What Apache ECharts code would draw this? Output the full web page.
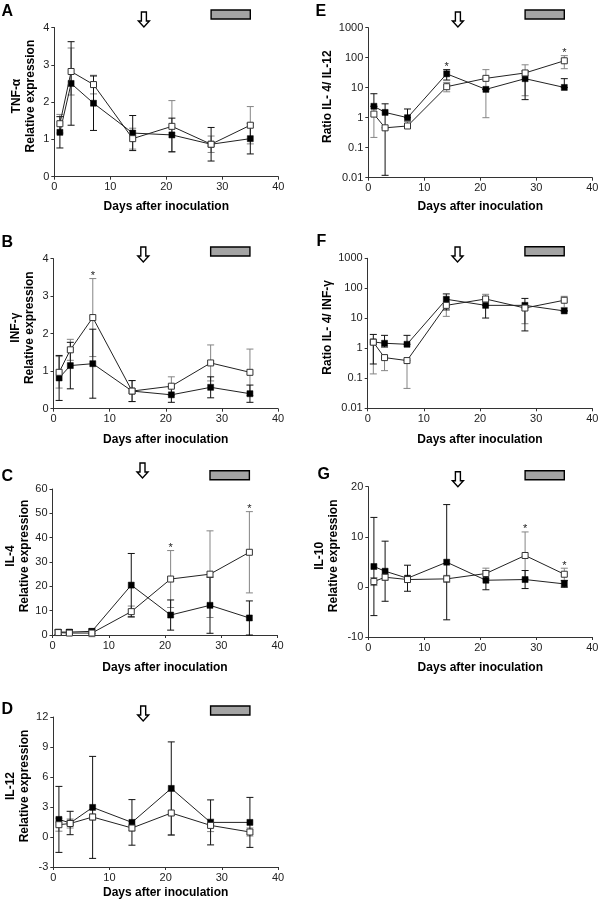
<!DOCTYPE html>
<html><head><meta charset="utf-8">
<script src="https://cdn.jsdelivr.net/npm/echarts@6/dist/echarts.min.js"></script>
<style>html,body{margin:0;padding:0;background:#fff}#c{width:600px;height:905px}</style>
</head><body><div id="c"></div>
<script>
const FONT = '"Liberation Sans", Arial, Helvetica, sans-serif';
const days = [1, 3, 7, 14, 21, 28, 35];
const arrowDay = 16;
const barDays = [28, 35];
const xName = 'Days after inoculation';

// A: TNF-α
const tnfFilled = [1.19, 2.5, 1.97, 1.17, 1.12, 0.87, 1.02];
const tnfFilledErr = [0.42, 1.12, 0.73, 0.47, 0.45, 0.45, 0.41];
const tnfOpen = [1.42, 2.82, 2.47, 1.02, 1.35, 0.87, 1.38];
const tnfOpenErr = [0.25, 0.63, 0.25, 0.28, 0.69, 0.22, 0.5];
const tnfStars = [];

// B: INF-γ
const infFilled = [0.82, 1.15, 1.2, 0.47, 0.37, 0.57, 0.4];
const infFilledErr = [0.6, 0.62, 0.92, 0.28, 0.2, 0.28, 0.23];
const infOpen = [0.97, 1.57, 2.43, 0.47, 0.6, 1.22, 0.97];
const infOpenErr = [0.42, 0.28, 1.04, 0.28, 0.25, 0.48, 0.62];
const infStars = [7];

// C: IL-4
const il4Filled = [1.2, 1.2, 1.5, 20.5, 8.2, 12.2, 7];
const il4FilledErr = [1, 1, 1, 13, 6.2, 11.5, 7];
const il4Open = [1.0, 0.8, 0.8, 9.6, 23, 25, 34];
const il4OpenErr = [0.8, 1, 1.5, 2.3, 11.7, 17.8, 16.7];
const il4Stars = [21, 35];

// D: IL-12
const il12Filled = [1.76, 1.4, 2.96, 1.46, 4.86, 1.46, 1.46];
const il12FilledErr = [3.3, 1.17, 5.1, 2.28, 4.65, 2.25, 2.5];
const il12Open = [1.23, 1.35, 2.0, 0.9, 2.4, 1.16, 0.5];
const il12OpenErr = [0.65, 0.45, 0.3, 0.3, 2.23, 0.62, 0.4];
const il12Stars = [];

// E: Ratio IL-4 / IL-12 (log scale, bounds read directly)
const r12Filled = [2.4, 1.5, 1.0, 29, 8.8, 20, 10.2];
const r12FilledLo = [2.4, 0.012, 1.0, 18, 8.8, 4, 10.2];
const r12FilledHi = [6.3, 2.9, 1.95, 40, 8.8, 36, 20];
const r12Open = [1.32, 0.46, 0.53, 10.8, 20.5, 31, 79];
const r12OpenLo = [0.22, 0.46, 0.53, 7.3, 1.0, 5.4, 43];
const r12OpenHi = [2.4, 0.46, 0.75, 15, 40, 58, 117];
const r12Stars = [14, 35];

// F: Ratio IL-4 / INF-γ (log scale)
const rgFilled = [1.63, 1.47, 1.36, 43, 27, 27, 17.6];
const rgFilledLo = [0.3, 1.1, 1.36, 19, 10.2, 3.8, 17.6];
const rgFilledHi = [2.9, 2.7, 2.7, 65, 27, 46, 17.6];
const rgOpen = [1.6, 0.49, 0.39, 27, 44, 22, 40];
const rgOpenLo = [0.14, 0.18, 0.046, 11.6, 44, 6.6, 23];
const rgOpenHi = [1.6, 0.49, 0.39, 27, 63, 22, 54];
const rgStars = [];

// G: IL-10
const il10Filled = [4.07, 3.13, 1.73, 4.93, 1.33, 1.47, 0.6];
const il10FilledErr = [9.8, 6, 2.6, 11.5, 1.9, 1.8, 0.67];
const il10Open = [1.07, 1.93, 1.47, 1.6, 2.67, 6.27, 2.53];
const il10OpenErr = [0.8, 0.6, 0.5, 0.7, 1.07, 4.7, 1.2];
const il10Stars = [28, 35];

const lo = (v, e) => v.map((x, i) => x - e[i]);
const hi = (v, e) => v.map((x, i) => x + e[i]);

const panels = [
  {letter: 'A', name: 'TNF-α\nRelative expression', type: 'value', min: 0, max: 4, interval: 1,
   f: tnfFilled, fLo: lo(tnfFilled, tnfFilledErr), fHi: hi(tnfFilled, tnfFilledErr),
   o: tnfOpen, oLo: lo(tnfOpen, tnfOpenErr), oHi: hi(tnfOpen, tnfOpenErr), stars: tnfStars,
   grid: {left: 54.3, top: 27.5, width: 224, height: 149.2}, nameGap: 17, xGap: 23.5,
   barOff: -17.5, arrowOff: -15.5, lab: [1.5, 3.5]},
  {letter: 'B', name: 'INF-γ\nRelative expression', type: 'value', min: 0, max: 4, interval: 1,
   f: infFilled, fLo: lo(infFilled, infFilledErr), fHi: hi(infFilled, infFilledErr),
   o: infOpen, oLo: lo(infOpen, infOpenErr), oHi: hi(infOpen, infOpenErr), stars: infStars,
   grid: {left: 53.5, top: 258.7, width: 224.5, height: 150}, nameGap: 17, xGap: 24.5,
   barOff: -11.7, arrowOff: -11.7, lab: [1.5, 234.5]},
  {letter: 'C', name: 'IL-4\nRelative expression', type: 'value', min: 0, max: 60, interval: 10,
   f: il4Filled, fLo: lo(il4Filled, il4FilledErr), fHi: hi(il4Filled, il4FilledErr),
   o: il4Open, oLo: lo(il4Open, il4OpenErr), oHi: hi(il4Open, il4OpenErr), stars: il4Stars,
   grid: {left: 52.5, top: 489, width: 225, height: 146}, nameGap: 19, xGap: 26.5,
   barOff: -18.3, arrowOff: -26, lab: [1.5, 468.5]},
  {letter: 'D', name: 'IL-12\nRelative expression', type: 'value', min: -3, max: 12, interval: 3,
   f: il12Filled, fLo: lo(il12Filled, il12FilledErr), fHi: hi(il12Filled, il12FilledErr),
   o: il12Open, oLo: lo(il12Open, il12OpenErr), oHi: hi(il12Open, il12OpenErr), stars: il12Stars,
   grid: {left: 53.3, top: 717, width: 224.7, height: 150}, nameGap: 22, xGap: 19.5,
   barOff: -11, arrowOff: -11, lab: [1.5, 701.5]},
  {letter: 'E', name: 'Ratio IL- 4/ IL-12', type: 'log', min: 0.01, max: 1000,
   f: r12Filled, fLo: r12FilledLo, fHi: r12FilledHi,
   o: r12Open, oLo: r12OpenLo, oHi: r12OpenHi, stars: r12Stars,
   grid: {left: 368.3, top: 27.7, width: 224, height: 150}, nameGap: 30, xGap: 22.5,
   barOff: -17.7, arrowOff: -15.7, lab: [315.5, 3.5]},
  {letter: 'F', name: 'Ratio IL- 4/ INF-γ', type: 'log', min: 0.01, max: 1000,
   f: rgFilled, fLo: rgFilledLo, fHi: rgFilledHi,
   o: rgOpen, oLo: rgOpenLo, oHi: rgOpenHi, stars: rgStars,
   grid: {left: 367.7, top: 258.3, width: 224.6, height: 150}, nameGap: 30, xGap: 25.5,
   barOff: -11.6, arrowOff: -11.3, lab: [316.5, 233.5]},
  {letter: 'G', name: 'IL-10\nRelative expression', type: 'value', min: -10, max: 20, interval: 10,
   f: il10Filled, fLo: lo(il10Filled, il10FilledErr), fHi: hi(il10Filled, il10FilledErr),
   o: il10Open, oLo: lo(il10Open, il10OpenErr), oHi: hi(il10Open, il10OpenErr), stars: il10Stars,
   grid: {left: 368.3, top: 486.7, width: 224, height: 150.3}, nameGap: 28, xGap: 24.5,
   barOff: -16, arrowOff: -15, lab: [317.5, 466.5]}
];

const AXIS_COLOR = '#333';
const grids = [], xAxes = [], yAxes = [], series = [], graphics = [];

function errSeries(pi, los, his, color) {
  return {
    type: 'custom', xAxisIndex: pi, yAxisIndex: pi, z: 2, silent: true, clip: false,
    data: days.map((d, k) => [d, los[k], his[k]]),
    encode: {x: 0, y: [1, 2]},
    renderItem: (params, api) => {
      const d = api.value(0), l = api.value(1), h = api.value(2);
      const pt = api.coord([d, h]), pb = api.coord([d, l]);
      const w = 3.5;
      const st = {stroke: color, lineWidth: 1};
      return {type: 'group', children: [
        {type: 'line', shape: {x1: pt[0], y1: pt[1], x2: pb[0], y2: pb[1]}, style: st},
        {type: 'line', shape: {x1: pt[0] - w, y1: pt[1], x2: pt[0] + w, y2: pt[1]}, style: st},
        {type: 'line', shape: {x1: pb[0] - w, y1: pb[1], x2: pb[0] + w, y2: pb[1]}, style: st}
      ]};
    }
  };
}

panels.forEach((p, i) => {
  grids.push(Object.assign({containLabel: false, outerBoundsMode: 'none'}, p.grid));
  xAxes.push({
    gridIndex: i, type: 'value', min: 0, max: 40, interval: 10,
    name: xName, nameLocation: 'middle', nameGap: p.xGap,
    nameTextStyle: {fontFamily: FONT, fontWeight: 'bold', fontSize: 12, color: '#000'},
    axisLine: {show: true, onZero: false, lineStyle: {color: AXIS_COLOR, width: 1}},
    axisTick: {show: true, length: 3, lineStyle: {color: AXIS_COLOR}},
    axisLabel: {fontFamily: FONT, fontSize: 11, color: '#222', margin: 5},
    splitLine: {show: false}
  });
  const y = {
    gridIndex: i, type: p.type, min: p.min, max: p.max,
    name: p.name, nameLocation: 'middle', nameGap: p.nameGap, nameRotate: 90,
    nameTextStyle: {fontFamily: FONT, fontWeight: 'bold', fontSize: 12, color: '#000', lineHeight: 14,
      padding: [0, 0, 0, 12]},
    axisLine: {show: true, onZero: false, lineStyle: {color: AXIS_COLOR, width: 1}},
    axisTick: {show: true, length: 3, lineStyle: {color: AXIS_COLOR}},
    axisLabel: {fontFamily: FONT, fontSize: 11, color: '#222', margin: 5,
      formatter: v => String(+(+v).toPrecision(6))},
    splitLine: {show: false}
  };
  if (p.type === 'log') { y.logBase = 10; } else { y.interval = p.interval; }
  yAxes.push(y);

  series.push(errSeries(i, p.oLo, p.oHi, '#858585'));
  series.push(errSeries(i, p.fLo, p.fHi, '#111'));
  series.push({
    type: 'line', xAxisIndex: i, yAxisIndex: i, z: 3, silent: true,
    data: days.map((d, k) => [d, p.f[k]]),
    symbol: 'rect', symbolSize: 6, showSymbol: true,
    lineStyle: {color: '#222', width: 1}, itemStyle: {color: '#000', borderColor: '#000', borderWidth: 0.5}
  });
  series.push({
    type: 'line', xAxisIndex: i, yAxisIndex: i, z: 4, silent: true,
    data: days.map((d, k) => [d, p.o[k]]),
    symbol: 'rect', symbolSize: 6, showSymbol: true,
    lineStyle: {color: '#222', width: 1}, itemStyle: {color: '#fff', borderColor: '#333', borderWidth: 1}
  });
  // significance stars above the highest error cap
  series.push({
    type: 'custom', xAxisIndex: i, yAxisIndex: i, z: 5, silent: true, clip: false,
    data: p.stars.map(d => { const k = days.indexOf(d); return [d, Math.max(p.fHi[k], p.oHi[k])]; }),
    encode: {x: 0, y: 1},
    renderItem: (params, api) => {
      const pt = api.coord([api.value(0), api.value(1)]);
      return {type: 'text', x: pt[0], y: pt[1] + 3,
        style: {text: '*', fontFamily: FONT, fontSize: 11, fill: '#222', align: 'center', verticalAlign: 'bottom'}};
    }
  });
  // arrow (treatment) and gray bar above plot
  series.push({
    type: 'custom', xAxisIndex: i, yAxisIndex: i, z: 5, silent: true, clip: false,
    data: [[arrowDay, barDays[0], barDays[1]]],
    encode: {x: [0, 1, 2]},
    renderItem: (params, api) => {
      const top = params.coordSys.y;
      const cx = api.coord([api.value(0), p.min])[0];
      const bx0 = api.coord([api.value(1), p.min])[0];
      const bx1 = api.coord([api.value(2), p.min])[0];
      const ty = top + p.arrowOff;
      const by = top + p.barOff;
      return {type: 'group', children: [
        {type: 'polygon', shape: {points: [[cx - 2.5, ty], [cx + 2.5, ty], [cx + 2.5, ty + 9], [cx + 5.5, ty + 9],
          [cx, ty + 15], [cx - 5.5, ty + 9], [cx - 2.5, ty + 9]]},
          style: {fill: '#fff', stroke: '#000', lineWidth: 1.4}},
        {type: 'rect', shape: {x: bx0, y: by, width: bx1 - bx0, height: 9},
          style: {fill: '#a4a4a4', stroke: '#000', lineWidth: 1.4}}
      ]};
    }
  });
  graphics.push({type: 'text', left: p.lab[0], top: p.lab[1],
    style: {text: p.letter, font: 'bold 16px ' + FONT, fill: '#000'}});
});

const chart = echarts.init(document.getElementById('c'), null, {renderer: 'canvas'});
chart.setOption({
  animation: false,
  backgroundColor: '#fff',
  grid: grids, xAxis: xAxes, yAxis: yAxes, series: series, graphic: graphics
});
</script></body></html>
